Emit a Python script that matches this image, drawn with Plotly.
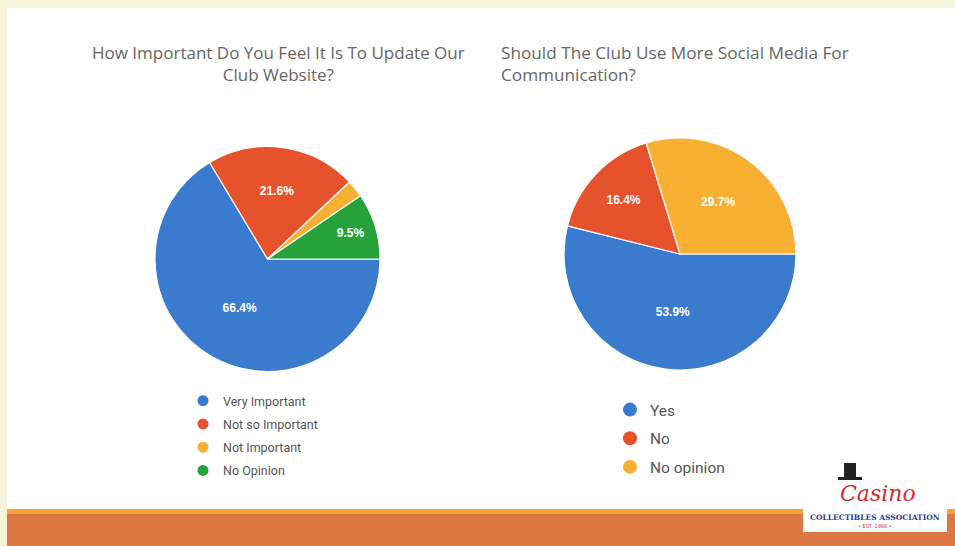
import plotly.graph_objects as go

# ---- data ----
q1_title = "How Important Do You Feel It Is To Update Our<br>Club Website?"
q1_labels = ["Very Important", "Not so Important", "Not Important", "No Opinion"]
q1_values = [66.4, 21.6, 2.5, 9.5]
q1_colors = ["#3b7bcd", "#e5522c", "#f8b032", "#25a33a"]

q2_title = "Should The Club Use More Social Media For<br>Communication?"
q2_labels = ["Yes", "No", "No opinion"]
q2_values = [53.9, 16.4, 29.7]
q2_colors = ["#3b7bcd", "#e5522c", "#f8b032"]

W, H = 955, 546
def px(x): return x / W
def py(y): return 1 - y / H

def pie_text(vals):
    return [f"{v}%" if v >= 5 else "" for v in vals]

fig = go.Figure()

fig.add_trace(go.Pie(
    labels=q1_labels, values=q1_values, text=pie_text(q1_values),
    textinfo="text", textposition="inside", insidetextorientation="horizontal",
    sort=False, direction="clockwise", rotation=90,
    marker=dict(colors=q1_colors, line=dict(color="white", width=1.2)),
    textfont=dict(color="white", size=12, family="Liberation Sans", weight="bold"),
    domain=dict(x=[px(155), px(380)], y=[py(371.5), py(146.5)]),
    showlegend=False, hoverinfo="label+percent",
))
fig.add_trace(go.Pie(
    labels=q2_labels, values=q2_values, text=pie_text(q2_values),
    textinfo="text", textposition="inside", insidetextorientation="horizontal",
    sort=False, direction="clockwise", rotation=90,
    marker=dict(colors=q2_colors, line=dict(color="white", width=1.2)),
    textfont=dict(color="white", size=12, family="Liberation Sans", weight="bold"),
    domain=dict(x=[px(564), px(796)], y=[py(370), py(138)]),
    showlegend=False, hoverinfo="label+percent",
))

# legend entries (circle symbols)
for i, (lab, col) in enumerate(zip(q1_labels, q1_colors)):
    fig.add_trace(go.Scatter(x=[None], y=[None], mode="markers", name=lab,
                             marker=dict(color=col, size=11, symbol="circle"),
                             legend="legend", legendgroup=f"a{i}"))
for i, (lab, col) in enumerate(zip(q2_labels, q2_colors)):
    fig.add_trace(go.Scatter(x=[None], y=[None], mode="markers", name=lab,
                             marker=dict(color=col, size=14, symbol="circle"),
                             legend="legend2", legendgroup=f"b{i}"))

shapes = [
    # white panel
    dict(type="rect", xref="paper", yref="paper", x0=px(7), x1=1, y0=py(509), y1=py(8),
         fillcolor="white", line=dict(width=0), layer="below"),
    # orange band
    dict(type="rect", xref="paper", yref="paper", x0=px(7), x1=1, y0=0, y1=py(509),
         fillcolor="#f3a23a", line=dict(width=0), layer="below"),
    dict(type="rect", xref="paper", yref="paper", x0=px(7), x1=1, y0=0, y1=py(514),
         fillcolor="#dc7844", line=dict(width=0), layer="below"),
    # logo background
    dict(type="rect", xref="paper", yref="paper", x0=px(803), x1=px(947), y0=py(532), y1=py(486),
         fillcolor="white", line=dict(width=0), layer="below"),
    # logo hat
    dict(type="rect", xref="paper", yref="paper", x0=px(844), x1=px(856), y0=py(478), y1=py(463),
         fillcolor="#222222", line=dict(width=0)),
    dict(type="rect", xref="paper", yref="paper", x0=px(838), x1=px(862), y0=py(480), y1=py(477),
         fillcolor="#222222", line=dict(width=0)),
]

title_font = dict(family="Open Sans", size=17, color="#666666")
annotations = [
    dict(text=q1_title, x=px(278), y=py(39.5), xref="paper", yref="paper",
         xanchor="center", yanchor="top", align="center", showarrow=False, font=title_font),
    dict(text=q2_title, x=px(499), y=py(39.5), xref="paper", yref="paper",
         xanchor="left", yanchor="top", align="left", showarrow=False,
         font=dict(title_font, size=17.2)),
    dict(text="<i>Casino</i>", x=px(878), y=py(493), xref="paper", yref="paper",
         xanchor="center", yanchor="middle", showarrow=False,
         font=dict(family="DejaVu Serif", size=22, color="#d42a30")),
    dict(text="<b>COLLECTIBLES ASSOCIATION</b>", x=px(875), y=py(517), xref="paper", yref="paper",
         xanchor="center", yanchor="middle", showarrow=False,
         font=dict(family="DejaVu Serif", size=7.5, color="#2b3a8c")),
    dict(text="• EST. 1988 •", x=px(875), y=py(526), xref="paper", yref="paper",
         xanchor="center", yanchor="middle", showarrow=False,
         font=dict(family="DejaVu Sans", size=5, color="#d42a30")),
]

fig.update_layout(
    width=W, height=H,
    margin=dict(l=0, r=0, t=0, b=0),
    paper_bgcolor="#f3f4d9",
    plot_bgcolor="rgba(0,0,0,0)",
    xaxis=dict(visible=False), yaxis=dict(visible=False),
    shapes=shapes, annotations=annotations,
    legend=dict(x=px(183), y=py(386), xanchor="left", yanchor="top",
                traceorder="grouped", tracegroupgap=4, bgcolor="rgba(0,0,0,0)",
                font=dict(family="Roboto", size=12.5, color="#555555")),
    legend2=dict(x=px(610), y=py(393), xanchor="left", yanchor="top",
                 traceorder="grouped", tracegroupgap=5.5, bgcolor="rgba(0,0,0,0)",
                 font=dict(family="Roboto", size=15.5, color="#555555")),
)

fig.write_html("out.html", config={"displayModeBar": False},
               post_script="document.body.style.margin='0';document.body.style.overflow='hidden';")
